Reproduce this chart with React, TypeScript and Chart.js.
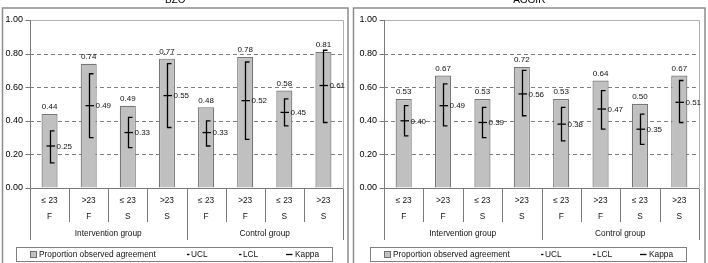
import React, { useEffect, useRef } from 'react';
import { Chart, registerables } from 'chart.js';

Chart.register(...registerables);

const categories = ['≤ 23', '>23', '≤ 23', '>23', '≤ 23', '>23', '≤ 23', '>23'];
const subLabels = ['F', 'F', 'S', 'S', 'F', 'F', 'S', 'S'];
const groups = ['Intervention group', 'Control group'];
const yTicks = [0, 0.2, 0.4, 0.6, 0.8, 1.0];

const bzoAgreement = [0.44, 0.74, 0.49, 0.77, 0.48, 0.78, 0.58, 0.81];
const bzoKappa = [0.25, 0.49, 0.33, 0.55, 0.33, 0.52, 0.45, 0.61];
const bzoUCL = [0.34, 0.68, 0.42, 0.74, 0.40, 0.75, 0.53, 0.82];
const bzoLCL = [0.15, 0.30, 0.24, 0.36, 0.25, 0.29, 0.37, 0.39];

const aggirAgreement = [0.53, 0.67, 0.53, 0.72, 0.53, 0.64, 0.50, 0.67];
const aggirKappa = [0.40, 0.49, 0.39, 0.56, 0.38, 0.47, 0.35, 0.51];
const aggirUCL = [0.49, 0.62, 0.48, 0.70, 0.48, 0.58, 0.44, 0.64];
const aggirLCL = [0.31, 0.37, 0.30, 0.43, 0.28, 0.35, 0.26, 0.39];

const FONT = '"Liberation Sans", Arial, sans-serif';

type PanelCfg = {
  title: string;
  agreement: number[];
  kappa: number[];
  ucl: number[];
  lcl: number[];
  borderLeft: number;
  borderRight: number;
  axisWidth: number;
  padRight: number;
  canvasWidth: number;
};

function makePanelPlugin(cfg: PanelCfg) {
  return {
    id: 'panel',
    beforeDraw(chart: any) {
      const ctx = chart.ctx as CanvasRenderingContext2D;
      ctx.save();
      ctx.fillStyle = '#ffffff';
      ctx.fillRect(0, 0, chart.width, chart.height);
      ctx.strokeStyle = '#8c8c8c';
      ctx.lineWidth = 1.5;
      ctx.strokeRect(cfg.borderLeft, 8, cfg.borderRight - cfg.borderLeft, 400);
      ctx.fillStyle = '#000';
      ctx.font = `10px ${FONT}`;
      ctx.textAlign = 'center';
      ctx.textBaseline = 'alphabetic';
      ctx.fillText(cfg.title, (cfg.borderLeft + cfg.borderRight) / 2, 3);
      ctx.restore();
    },
    beforeDatasetsDraw(chart: any) {
      const ctx = chart.ctx as CanvasRenderingContext2D;
      const a = chart.chartArea;
      const x = chart.scales.x;
      const y = chart.scales.y;
      ctx.save();
      ctx.strokeStyle = '#b0b0b0';
      ctx.lineWidth = 1;
      ctx.beginPath();
      ctx.moveTo(a.left, Math.round(a.top) + 0.5);
      ctx.lineTo(Math.round(a.right) + 0.5, Math.round(a.top) + 0.5);
      ctx.lineTo(Math.round(a.right) + 0.5, a.bottom);
      ctx.stroke();
      ctx.strokeStyle = '#808080';
      ctx.setLineDash([4, 3]);
      for (const t of yTicks) {
        if (t <= 0 || t >= 1) continue;
        const py = Math.round(y.getPixelForValue(t)) + 0.5;
        ctx.beginPath();
        ctx.moveTo(a.left, py);
        ctx.lineTo(a.right, py);
        ctx.stroke();
      }
      ctx.setLineDash([]);
      ctx.strokeStyle = '#7a7a7a';
      const lx = Math.round(a.left) + 0.5;
      const by = Math.round(a.bottom) + 0.5;
      ctx.beginPath();
      ctx.moveTo(lx, a.top);
      ctx.lineTo(lx, by);
      ctx.lineTo(a.right, by);
      ctx.stroke();
      for (const t of yTicks) {
        const py = Math.round(y.getPixelForValue(t)) + 0.5;
        ctx.beginPath();
        ctx.moveTo(lx - 5, py);
        ctx.lineTo(lx, py);
        ctx.stroke();
      }
      const n = categories.length;
      for (let i = 0; i <= n; i++) {
        let px: number;
        if (i === 0) px = a.left;
        else if (i === n) px = a.right;
        else px = (x.getPixelForValue(i - 1) + x.getPixelForValue(i)) / 2;
        px = Math.round(px) + 0.5;
        const long = i === 0 || i === n || i === n / 2;
        ctx.beginPath();
        ctx.moveTo(px, by);
        ctx.lineTo(px, long ? 240 : 222);
        ctx.stroke();
      }
      ctx.restore();
    },
    afterDatasetsDraw(chart: any) {
      const ctx = chart.ctx as CanvasRenderingContext2D;
      const a = chart.chartArea;
      const x = chart.scales.x;
      const y = chart.scales.y;
      const meta = chart.getDatasetMeta(0);
      ctx.save();
      ctx.strokeStyle = '#000';
      ctx.lineWidth = 1.3;
      for (let i = 0; i < categories.length; i++) {
        const el = meta.data[i];
        const cx = Math.round(el.x) + 0.5;
        const yu = y.getPixelForValue(cfg.ucl[i]);
        const yl = y.getPixelForValue(cfg.lcl[i]);
        const yk = y.getPixelForValue(cfg.kappa[i]);
        ctx.beginPath();
        ctx.moveTo(cx + 4, yu);
        ctx.lineTo(cx, yu);
        ctx.lineTo(cx, yl);
        ctx.lineTo(cx + 4, yl);
        ctx.stroke();
        ctx.beginPath();
        ctx.moveTo(cx - 4, yk);
        ctx.lineTo(cx + 4.5, yk);
        ctx.stroke();
        ctx.fillStyle = '#111';
        ctx.font = `8px ${FONT}`;
        ctx.textAlign = 'left';
        ctx.textBaseline = 'middle';
        ctx.fillText(cfg.kappa[i].toFixed(2), cx + 6, yk + 0.5);
        ctx.textAlign = 'center';
        ctx.fillText(cfg.agreement[i].toFixed(2), el.x, el.y - 7);
      }
      ctx.fillStyle = '#111';
      ctx.font = `8.3px ${FONT}`;
      ctx.textAlign = 'center';
      ctx.textBaseline = 'middle';
      for (let i = 0; i < categories.length; i++) {
        const px = x.getPixelForValue(i);
        ctx.fillText(categories[i], px, 201);
        ctx.fillText(subLabels[i], px, 217);
      }
      ctx.font = `8.3px ${FONT}`;
      const half = categories.length / 2;
      for (let g = 0; g < groups.length; g++) {
        const mid = (x.getPixelForValue(half - 1) + x.getPixelForValue(half)) / 2;
        const x0 = g === 0 ? a.left : mid;
        const x1 = g === 0 ? mid : a.right;
        ctx.fillText(groups[g], (x0 + x1) / 2, 234);
      }
      const L = Math.round(a.left);
      ctx.strokeStyle = '#808080';
      ctx.lineWidth = 1;
      ctx.fillStyle = '#fff';
      ctx.fillRect(L - 14, 247, 316, 14);
      ctx.strokeRect(L - 14 + 0.5, 247.5, 316, 14);
      ctx.fillStyle = '#c0c0c0';
      ctx.fillRect(L + 0.5, 251.5, 6, 6);
      ctx.strokeStyle = '#707070';
      ctx.strokeRect(L + 0.5, 251.5, 6, 6);
      ctx.fillStyle = '#111';
      ctx.font = `8.3px ${FONT}`;
      ctx.textAlign = 'left';
      ctx.textBaseline = 'middle';
      ctx.fillText('Proportion observed agreement', L + 9, 254.5);
      ctx.strokeStyle = '#000';
      ctx.lineWidth = 1.3;
      const dash = (x0: number, x1: number) => {
        ctx.beginPath();
        ctx.moveTo(x0, 254.5);
        ctx.lineTo(x1, 254.5);
        ctx.stroke();
      };
      dash(L + 157, L + 159.5);
      ctx.fillText('UCL', L + 161, 254.5);
      dash(L + 209, L + 211.5);
      ctx.fillText('LCL', L + 213, 254.5);
      dash(L + 256, L + 262.5);
      ctx.fillText('Kappa', L + 265, 254.5);
      ctx.restore();
    },
  };
}

function Panel({ cfg, left }: { cfg: PanelCfg; left: number }) {
  const ref = useRef<HTMLCanvasElement | null>(null);
  useEffect(() => {
    if (!ref.current) return;
    const chart = new Chart(ref.current, {
      type: 'bar',
      data: {
        labels: categories,
        datasets: [
          {
            label: 'Proportion observed agreement',
            data: cfg.agreement,
            backgroundColor: '#c0c0c0',
            borderColor: '#767676',
            borderWidth: 1.2,
            barPercentage: 0.41,
            categoryPercentage: 1,
          },
        ],
      },
      plugins: [makePanelPlugin(cfg)],
      options: {
        responsive: false,
        animation: false,
        devicePixelRatio: 1,
        layout: { padding: { left: 0, top: 20, right: cfg.padRight, bottom: 75 } },
        plugins: { legend: { display: false }, tooltip: { enabled: false }, title: { display: false } },
        scales: {
          x: { display: false, offset: true },
          y: {
            min: 0,
            max: 1,
            afterFit: (s: any) => {
              s.width = cfg.axisWidth;
            },
            afterBuildTicks: (s: any) => {
              s.ticks = yTicks.map((v) => ({ value: v }));
            },
            ticks: {
              padding: 2,
              color: '#000',
              font: { size: 9, family: FONT },
              callback: (v: any) => Number(v).toFixed(2),
            },
            grid: { display: true, color: 'rgba(0,0,0,0)', drawTicks: true, tickLength: 5 },
            border: { display: false },
          },
        },
      } as any,
    });
    return () => chart.destroy();
  }, [cfg]);
  return (
    <canvas
      ref={ref}
      width={cfg.canvasWidth}
      height={263}
      style={{ position: 'absolute', left, top: 0, width: cfg.canvasWidth, height: 263 }}
    />
  );
}

const bzoCfg: PanelCfg = {
  title: 'BZO',
  agreement: bzoAgreement,
  kappa: bzoKappa,
  ucl: bzoUCL,
  lcl: bzoLCL,
  borderLeft: 2.5,
  borderRight: 348,
  axisWidth: 30,
  padRight: 9,
  canvasWidth: 352,
};

const aggirCfg: PanelCfg = {
  title: 'AGGIR',
  agreement: aggirAgreement,
  kappa: aggirKappa,
  ucl: aggirUCL,
  lcl: aggirLCL,
  borderLeft: 1.5,
  borderRight: 353,
  axisWidth: 32,
  padRight: 9,
  canvasWidth: 356,
};

export default function App() {
  return (
    <div style={{ position: 'absolute', left: 0, top: 0, width: 708, height: 263, background: '#fff', overflow: 'hidden' }}>
      <Panel cfg={bzoCfg} left={0} />
      <Panel cfg={aggirCfg} left={352} />
    </div>
  );
}
